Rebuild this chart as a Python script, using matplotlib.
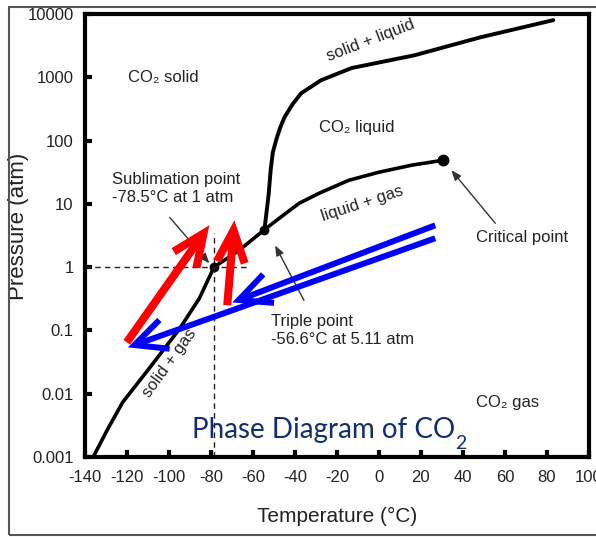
import matplotlib
matplotlib.use("Agg")
from matplotlib import pyplot as plt
from matplotlib.patches import Rectangle

plt.rcParams["font.family"] = ["Liberation Sans", "DejaVu Sans"]
plt.rcParams["axes.unicode_minus"] = False

# phase boundaries (temperature in C, pressure in atm)
sub_T = [-136, -129, -122, -109, -95, -85.5, -78.5, -66.5, -54.5]
sub_P = [0.001, 0.0028, 0.0073, 0.026, 0.105, 0.32, 1.0, 1.85, 3.9]

fus_T = [-54.5, -52.5, -51.5, -50.5, -49, -47, -45, -41, -37, -27.5, -13, 17, 48.5, 83]
fus_P = [3.9, 14, 35, 65, 100, 160, 232, 380, 560, 900, 1400, 2230, 4300, 8000]

vap_T = [-54.5, -47.5, -38, -28.5, -14.3, 0, 15.5, 30.7]
vap_P = [3.9, 5.9, 10.2, 14.7, 23.6, 31.6, 40.8, 49]

sublimation_pt = (-78.5, 1.0)
triple_pt = (-54.5, 3.9)
critical_pt = (30.7, 49)

x_ticks = list(range(-140, 101, 20))
y_ticks = [0.001, 0.01, 0.1, 1, 10, 100, 1000, 10000]
y_labels = ["0.001", "0.01", "0.1", "1", "10", "100", "1000", "10000"]

# hand-drawn overlay arrows: (tail, head)
red_arrows = [((-120, 0.065), (-80.7, 4.6)), ((-72.2, 0.25), (-68.8, 5.5))]
blue_arrows = [((26.8, 2.86), (-119.5, 0.054)), ((26.8, 4.58), (-69.8, 0.277))]

ink = "#222222"

fig = plt.figure(figsize=(5.96, 5.37), dpi=100)
fig.patches.append(Rectangle((9 / 596, 2 / 537), 590 / 596, 528 / 537, transform=fig.transFigure,
                             fill=False, edgecolor="#555555", linewidth=1.5))
ax = fig.add_axes([84.8 / 596, 1 - 457 / 537, (589 - 84.8) / 596, (457 - 14) / 537])

ax.set_yscale("log")
ax.set_xlim(-140, 100)
ax.set_ylim(0.001, 10000)

ax.plot(sub_T, sub_P, color="black", lw=2.6, solid_capstyle="round")
ax.plot(fus_T, fus_P, color="black", lw=2.8, solid_capstyle="round")
ax.plot(vap_T, vap_P, color="black", lw=2.6, solid_capstyle="round")

ax.plot(*sublimation_pt, "o", color="black", ms=6)
ax.plot(*triple_pt, "o", color="black", ms=6)
ax.plot(*critical_pt, "o", color="black", ms=7.5)

# dashed guides to the sublimation point
ax.plot([-140, -63], [1, 1], color=ink, lw=1, ls=(0, (4, 3)))
ax.plot([-78.5, -78.5], [0.001, 3.5], color=ink, lw=1, ls=(0, (4, 3)))

ax.set_xticks(x_ticks)
ax.set_yticks(y_ticks, y_labels)
ax.minorticks_off()
ax.tick_params(direction="in", length=5, width=3, labelsize=12, colors="black", labelcolor=ink)
ax.tick_params(axis="y", pad=8)
ax.tick_params(axis="x", pad=9)
for s in ax.spines.values():
    s.set_linewidth(3)

ax.set_xlabel("Temperature (°C)", fontsize=15, color=ink)
ax.set_ylabel("Pressure (atm)", fontsize=16, color=ink)
ax.xaxis.set_label_coords(0.5, -0.113)
ax.yaxis.set_label_coords(-0.111, 0.52)

fs = 12
ax.text(-119.5, 1000, "CO₂ solid", fontsize=fs, color=ink, va="center")
ax.text(-28.6, 163, "CO₂ liquid", fontsize=fs, color=ink, va="center")
ax.text(46.3, 0.0073, "CO₂ gas", fontsize=fs, color=ink, va="center")
ax.text(-3.7, 3880, "solid + liquid", fontsize=fs, color=ink, rotation=21, ha="center", va="center")
ax.text(-8, 10.2, "liquid + gas", fontsize=fs, color=ink, rotation=18, ha="center", va="center")
ax.text(-99.6, 0.031, "solid + gas", fontsize=fs, color=ink, rotation=54, ha="center", va="center")
ax.text(-127.1, 17.7, "Sublimation point\n-78.5°C at 1 atm", fontsize=fs, color=ink,
        va="center", linespacing=1.25)
ax.text(-51.3, 0.1, "Triple point\n-56.6°C at 5.11 atm", fontsize=fs, color=ink,
        va="center", linespacing=1.25)
ax.text(46, 2.97, "Critical point", fontsize=fs, color=ink, va="center")

thin = dict(arrowstyle="-|>,head_length=0.5,head_width=0.2", color="#333333", lw=1,
            shrinkA=0, shrinkB=0, mutation_scale=12)
ax.annotate("", xy=(-80.7, 1.15), xytext=(-99.6, 6.1), arrowprops=thin)
ax.annotate("", xy=(-49.4, 2.2), xytext=(-35.7, 0.3), arrowprops=thin)
ax.annotate("", xy=(34.5, 34), xytext=(55.4, 4.93), arrowprops=thin)

for tail, head in red_arrows:
    ax.annotate("", xy=head, xytext=tail, zorder=5,
                arrowprops=dict(arrowstyle="->,head_length=23,head_width=10", mutation_scale=1,
                                color="#ff0000", lw=5.8, shrinkA=0, shrinkB=0,
                                capstyle="butt", joinstyle="miter"))
for tail, head in blue_arrows:
    ax.annotate("", xy=head, xytext=tail, zorder=6,
                arrowprops=dict(arrowstyle="->,head_length=23,head_width=11", mutation_scale=1,
                                color="#0000ff", lw=4.3, shrinkA=0, shrinkB=0,
                                capstyle="butt", joinstyle="miter"))

title = ax.text(-89.2, 0.00203, "Phase Diagram of CO", fontsize=20, color="#102f6e",
                family=["Lato", "DejaVu Sans"], va="baseline", zorder=7)
ax.annotate("2", xy=(1, 0), xycoords=title, xytext=(0.5, -1), textcoords="offset points",
            fontsize=14, color="#102f6e", family=["Lato", "DejaVu Sans"], va="center", zorder=7)

fig.savefig("out.png", dpi=100)
